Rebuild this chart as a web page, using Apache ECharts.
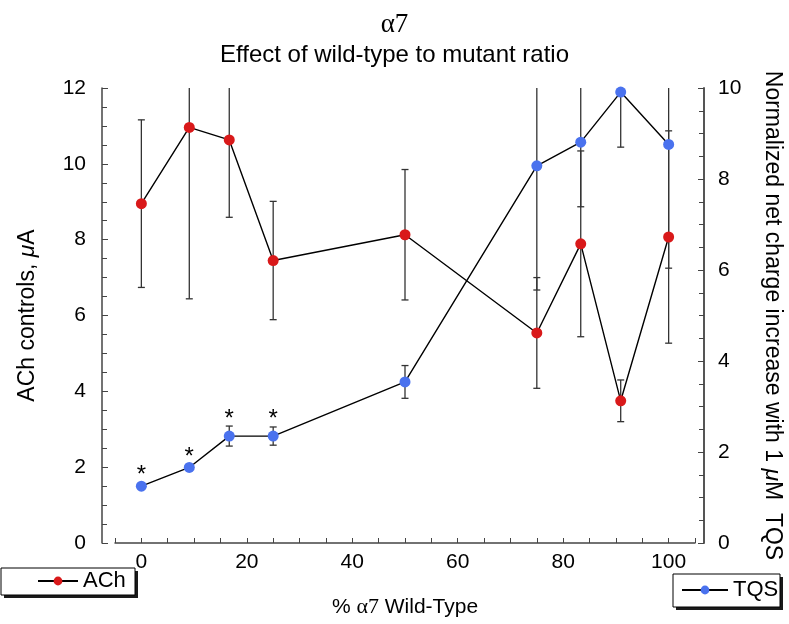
<!DOCTYPE html>
<html>
<head>
<meta charset="utf-8">
<script src="https://cdn.jsdelivr.net/npm/echarts@6/dist/echarts.min.js"></script>
<style>
  html, body { margin: 0; padding: 0; background: #fff; }
  #chart { width: 789px; height: 624px; }
</style>
</head>
<body>
<div id="chart"></div>
<script>
// % alpha7 wild-type in the injected mix
const pctWT = [0, 9.09, 16.67, 25, 50, 75, 83.33, 90.91, 100];

// ACh control currents (left axis, uA) and their error
const achValues = [8.95, 10.96, 10.63, 7.45, 8.13, 5.54, 7.89, 3.75, 8.07];
const achErr = [2.21, 4.52, 2.04, 1.56, 1.72, 1.46, 2.45, 0.55, 2.8];

// normalized net charge increase with TQS (right axis)
const tqsValues = [1.25, 1.66, 2.35, 2.35, 3.54, 8.29, 8.81, 9.91, 8.76];
const tqsErr = [0, 0, 0.22, 0.2, 0.36, 2.73, 1.42, 1.21, 2.72];

// significance marks on the TQS points
const tqsStars = [true, true, true, true, false, false, false, false, false];

const leftTicks = { min: 0, max: 12, step: 2 };
const rightTicks = { min: 0, max: 10, step: 2 };
const xTicks = { min: -5, max: 105, step: 5, labelStep: 20 };

const sans = 'Liberation Sans, Arial, sans-serif';
const serif = 'Liberation Serif, Times New Roman, serif';
const red = '#d9191a';
const blue = '#4a72ee';

const chart = echarts.init(document.getElementById('chart'));

function errorBars(params, api) {
  const x = api.value(0);
  const lo = api.value(1);
  const hi = api.value(2);
  if (hi - lo <= 0) return null;
  const p1 = api.coord([x, lo]);
  const p2 = api.coord([x, hi]);
  const w = 3.5;
  const style = { stroke: '#333', lineWidth: 1.3 };
  return {
    type: 'group',
    children: [
      { type: 'line', shape: { x1: p1[0], y1: p1[1], x2: p2[0], y2: p2[1] }, style },
      { type: 'line', shape: { x1: p1[0] - w, y1: p1[1], x2: p1[0] + w, y2: p1[1] }, style },
      { type: 'line', shape: { x1: p2[0] - w, y1: p2[1], x2: p2[0] + w, y2: p2[1] }, style },
    ],
  };
}

const achBars = pctWT.map((x, i) => [x, achValues[i] - achErr[i], achValues[i] + achErr[i]]);
const tqsBars = pctWT.map((x, i) => [x, tqsValues[i] - tqsErr[i], tqsValues[i] + tqsErr[i]]);

const achData = pctWT.map((x, i) => [x, achValues[i]]);
const tqsData = pctWT.map((x, i) => {
  const item = { value: [x, tqsValues[i]] };
  if (tqsStars[i]) {
    item.label = {
      show: true,
      formatter: '*',
      position: 'top',
      distance: tqsErr[i] > 0 ? -1 : -7,
    };
  }
  return item;
});

const axisLine = { show: true, onZero: false, lineStyle: { color: '#444', width: 1.5 } };
const labelStyle = { color: '#000', fontSize: 21, fontFamily: sans };
const legendText = { color: '#000', fontSize: 22, fontFamily: sans };

// legend frames with a hard drop shadow
function legendFrame(x, y, w, h) {
  return [
    { type: 'rect', z: 1, shape: { x: x + 3, y: y + 3, width: w, height: h }, style: { fill: '#1a1a1a' } },
    { type: 'rect', z: 2, shape: { x: x, y: y, width: w, height: h }, style: { fill: '#fff', stroke: '#000', lineWidth: 1 } },
  ];
}

const option = {
  backgroundColor: '#fff',
  animation: false,
  title: [
    {
      text: 'α7',
      left: 'center',
      top: 6,
      textStyle: { fontFamily: serif, fontSize: 27, fontWeight: 'normal', color: '#000' },
    },
    {
      text: 'Effect of wild-type to mutant ratio',
      left: 'center',
      top: 38,
      textStyle: { fontFamily: sans, fontSize: 24, fontWeight: 'normal', color: '#000' },
    },
  ],
  graphic: [
    ...legendFrame(1, 568, 134, 27),
    ...legendFrame(673, 574, 107, 33),
  ],
  legend: [
    {
      data: ['ACh'],
      left: 37,
      top: 570,
      padding: 0,
      itemWidth: 40,
      itemHeight: 11,
      textStyle: legendText,
      z: 5,
    },
    {
      data: ['TQS'],
      left: 681,
      top: 579,
      padding: 0,
      itemWidth: 46,
      itemHeight: 11,
      textStyle: legendText,
      z: 5,
    },
  ],
  grid: { left: 115, right: 94, top: 88, bottom: 81, containLabel: false, outerBoundsMode: 'none' },
  xAxis: {
    type: 'value',
    min: xTicks.min,
    max: xTicks.max,
    interval: xTicks.step,
    name: '{n|% }{a|α7}{n| Wild-Type}',
    nameLocation: 'middle',
    nameGap: 53,
    nameTextStyle: {
      rich: {
        n: { fontFamily: sans, fontSize: 21, color: '#000' },
        a: { fontFamily: serif, fontSize: 22, color: '#000' },
      },
    },
    axisLine: axisLine,
    axisTick: { show: true, inside: true, length: 5, lineStyle: { color: '#444' } },
    axisLabel: {
      ...labelStyle,
      margin: 9,
      formatter: (v) => (v >= 0 && v <= 100 && v % xTicks.labelStep === 0 ? String(v) : ''),
    },
    splitLine: { show: false },
  },
  yAxis: [
    {
      type: 'value',
      position: 'left',
      offset: 13,
      min: leftTicks.min,
      max: leftTicks.max,
      interval: leftTicks.step,
      name: '{n|ACh controls, }{i|μ}{n|A}',
      nameLocation: 'middle',
      nameGap: 63,
      nameRotate: 90,
      nameTextStyle: {
        rich: {
          n: { fontFamily: sans, fontSize: 23, color: '#000' },
          i: { fontFamily: sans, fontSize: 23, fontStyle: 'italic', color: '#000' },
        },
      },
      axisLine: axisLine,
      axisTick: { show: true, inside: true, length: 6, lineStyle: { color: '#444' } },
      minorTick: { show: true, splitNumber: 4, length: 5, lineStyle: { color: '#444' } },
      axisLabel: { ...labelStyle, margin: 16 },
      splitLine: { show: false },
    },
    {
      type: 'value',
      position: 'right',
      offset: 9,
      min: rightTicks.min,
      max: rightTicks.max,
      interval: rightTicks.step,
      name: '{n|Normalized net charge increase with 1 }{i|μ}{n|M  TQS}',
      nameLocation: 'middle',
      nameGap: 57,
      nameRotate: -90,
      nameTextStyle: {
        rich: {
          n: { fontFamily: sans, fontSize: 23, color: '#000' },
          i: { fontFamily: sans, fontSize: 23, fontStyle: 'italic', color: '#000' },
        },
      },
      axisLine: { show: true, onZero: false, lineStyle: { color: '#555', width: 2 } },
      axisTick: { show: true, inside: true, length: 6, lineStyle: { color: '#444' } },
      minorTick: { show: true, splitNumber: 4, length: 5, lineStyle: { color: '#444' } },
      axisLabel: { ...labelStyle, margin: 14 },
      splitLine: { show: false },
    },
  ],
  series: [
    {
      name: 'ACh-err',
      type: 'custom',
      yAxisIndex: 0,
      renderItem: errorBars,
      data: achBars,
      clip: true,
      z: 1,
      silent: true,
    },
    {
      name: 'TQS-err',
      type: 'custom',
      yAxisIndex: 1,
      renderItem: errorBars,
      data: tqsBars,
      clip: true,
      z: 1,
      silent: true,
    },
    {
      name: 'ACh',
      type: 'line',
      yAxisIndex: 0,
      data: achData,
      symbol: 'circle',
      symbolSize: 11,
      showAllSymbol: true,
      itemStyle: { color: red },
      lineStyle: { color: '#000', width: 1.4 },
      z: 3,
    },
    {
      name: 'TQS',
      type: 'line',
      yAxisIndex: 1,
      data: tqsData,
      symbol: 'circle',
      symbolSize: 11,
      showAllSymbol: true,
      itemStyle: { color: blue },
      lineStyle: { color: '#000', width: 1.4 },
      label: { color: '#000', fontSize: 24, fontFamily: sans },
      z: 3,
    },
  ],
};

chart.setOption(option);
</script>
</body>
</html>
